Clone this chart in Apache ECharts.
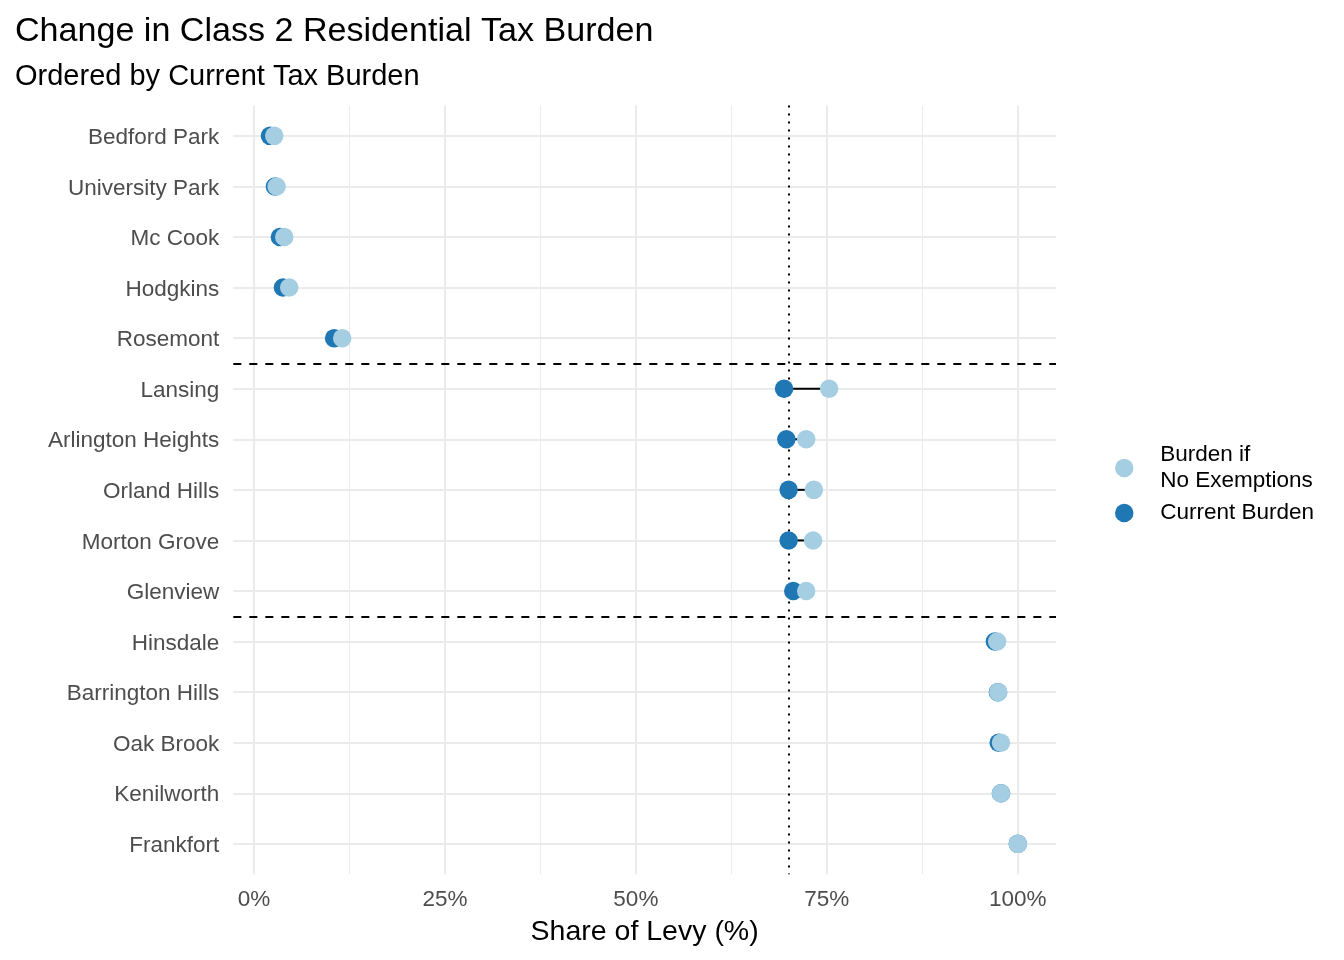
<!DOCTYPE html>
<html>
<head>
<meta charset="UTF-8">
<title>Change in Class 2 Residential Tax Burden</title>
<script src="https://cdn.jsdelivr.net/npm/echarts@6/dist/echarts.min.js"></script>
<style>
  html, body { margin: 0; padding: 0; background: #fff; }
  #main { width: 1344px; height: 960px; }
</style>
</head>
<body>
<div id="main"></div>
<script>
// municipalities, ordered by current tax burden (top to bottom)
var towns = ['Bedford Park', 'University Park', 'Mc Cook', 'Hodgkins', 'Rosemont',
  'Lansing', 'Arlington Heights', 'Orland Hills', 'Morton Grove', 'Glenview',
  'Hinsdale', 'Barrington Hills', 'Oak Brook', 'Kenilworth', 'Frankfort'];
// share of levy, %
var currentBurden = [2.1, 2.75, 3.4, 3.8, 10.5, 69.4, 69.7, 70.0, 70.0, 70.6, 97.0, 97.4, 97.5, 97.8, 100];
var noExemptBurden = [2.66, 2.97, 3.97, 4.62, 11.56, 75.3, 72.3, 73.3, 73.2, 72.3, 97.3, 97.45, 97.8, 97.8, 100];
var groupBreaks = [4.5, 9.5];
var refShare = 70;
var xTicks = [0, 25, 50, 75, 100];
var xMinorTicks = [12.5, 37.5, 62.5, 87.5];

var font = 'Liberation Sans, Arial, sans-serif';
var gridColor = '#ebebeb';

var chart = echarts.init(document.getElementById('main'));

var rowIdx = towns.map(function (t, i) { return i; });
var segData = towns.map(function (t, i) { return [currentBurden[i], noExemptBurden[i], i]; });

// gridlines as marker lines so they sit exactly on ticks and rows
var gridLines = []
  .concat(xTicks.map(function (v) { return { xAxis: v, lineStyle: { color: gridColor, width: 2, type: 'solid' } }; }))
  .concat(xMinorTicks.map(function (v) { return { xAxis: v, lineStyle: { color: gridColor, width: 1, type: 'solid' } }; }))
  .concat(rowIdx.map(function (i) { return { yAxis: i, lineStyle: { color: gridColor, width: 2, type: 'solid' } }; }));

var option = {
  animation: false,
  backgroundColor: '#fff',
  textStyle: { fontFamily: font },
  title: [
    { text: 'Change in Class 2 Residential Tax Burden', left: 15, top: 15, padding: 0,
      textStyle: { fontSize: 34.1, fontWeight: 'normal', color: '#000', fontFamily: font } },
    { text: 'Ordered by Current Tax Burden', left: 15, top: 62, padding: 0,
      textStyle: { fontSize: 29, fontWeight: 'normal', color: '#000', fontFamily: font } }
  ],
  legend: {
    orient: 'vertical',
    left: 1115,
    top: 442,
    padding: 0,
    icon: 'circle',
    itemWidth: 62,
    itemHeight: 18.5,
    itemGap: 6,
    data: ['Burden if\nNo Exemptions', 'Current Burden'],
    textStyle: { fontSize: 22.5, lineHeight: 26, color: '#000', fontFamily: font }
  },
  grid: { left: 233.3, right: 288, top: 105.5, bottom: 85.8, containLabel: false },
  xAxis: {
    type: 'value',
    min: -2.7, max: 105,
    name: 'Share of Levy (%)',
    nameLocation: 'middle',
    nameGap: 43,
    nameTextStyle: { fontSize: 28.5, color: '#000', fontFamily: font },
    axisLine: { show: false },
    axisTick: { show: false, customValues: xTicks },
    axisLabel: {
      margin: 14, fontSize: 22.5, color: '#4d4d4d', fontFamily: font,
      customValues: xTicks,
      formatter: function (v) { return v + '%'; }
    },
    splitLine: { show: false }
  },
  yAxis: {
    type: 'value',
    inverse: true,
    min: -0.6, max: 14.6,
    axisLine: { show: false },
    axisTick: { show: false, customValues: rowIdx },
    axisLabel: {
      margin: 14, fontSize: 22.5, color: '#4d4d4d', fontFamily: font,
      customValues: rowIdx,
      formatter: function (v) { return '{t|' + towns[Math.round(v)] + '}'; },
      rich: {
        t: { fontSize: 22.5, color: '#4d4d4d', fontFamily: font, padding: [4, 0, 0, 0] }
      }
    },
    splitLine: { show: false }
  },
  series: [
    {
      // background gridlines
      type: 'custom',
      z: 1,
      silent: true,
      data: [],
      renderItem: function () { return null; },
      markLine: {
        silent: true, symbol: 'none', z: 1,
        label: { show: false },
        emphasis: { disabled: true },
        data: gridLines
      }
    },
    {
      type: 'custom',
      z: 3,
      silent: true,
      data: segData,
      encode: { x: [0, 1], y: 2 },
      renderItem: function (params, api) {
        var a = api.coord([api.value(0), api.value(2)]);
        var b = api.coord([api.value(1), api.value(2)]);
        return { type: 'line', shape: { x1: a[0], y1: a[1], x2: b[0], y2: b[1] },
          style: { stroke: '#000', lineWidth: 2 } };
      },
      markLine: {
        silent: true, symbol: 'none', z: 4,
        label: { show: false },
        data: [
          { xAxis: refShare, lineStyle: { type: [2, 6], color: '#000', width: 2 } }
        ].concat(groupBreaks.map(function (b) {
          return { yAxis: b, lineStyle: { type: [8, 8], color: '#000', width: 2 } };
        }))
      }
    },
    {
      name: 'Current Burden',
      type: 'scatter',
      z: 10,
      symbolSize: 18.5,
      itemStyle: { color: '#1f78b4', opacity: 1 },
      data: currentBurden.map(function (v, i) { return [v, i]; })
    },
    {
      name: 'Burden if\nNo Exemptions',
      type: 'scatter',
      z: 11,
      symbolSize: 18.5,
      itemStyle: { color: '#a6cee3', opacity: 1 },
      data: noExemptBurden.map(function (v, i) { return [v, i]; })
    }
  ]
};

chart.setOption(option);
</script>
</body>
</html>
